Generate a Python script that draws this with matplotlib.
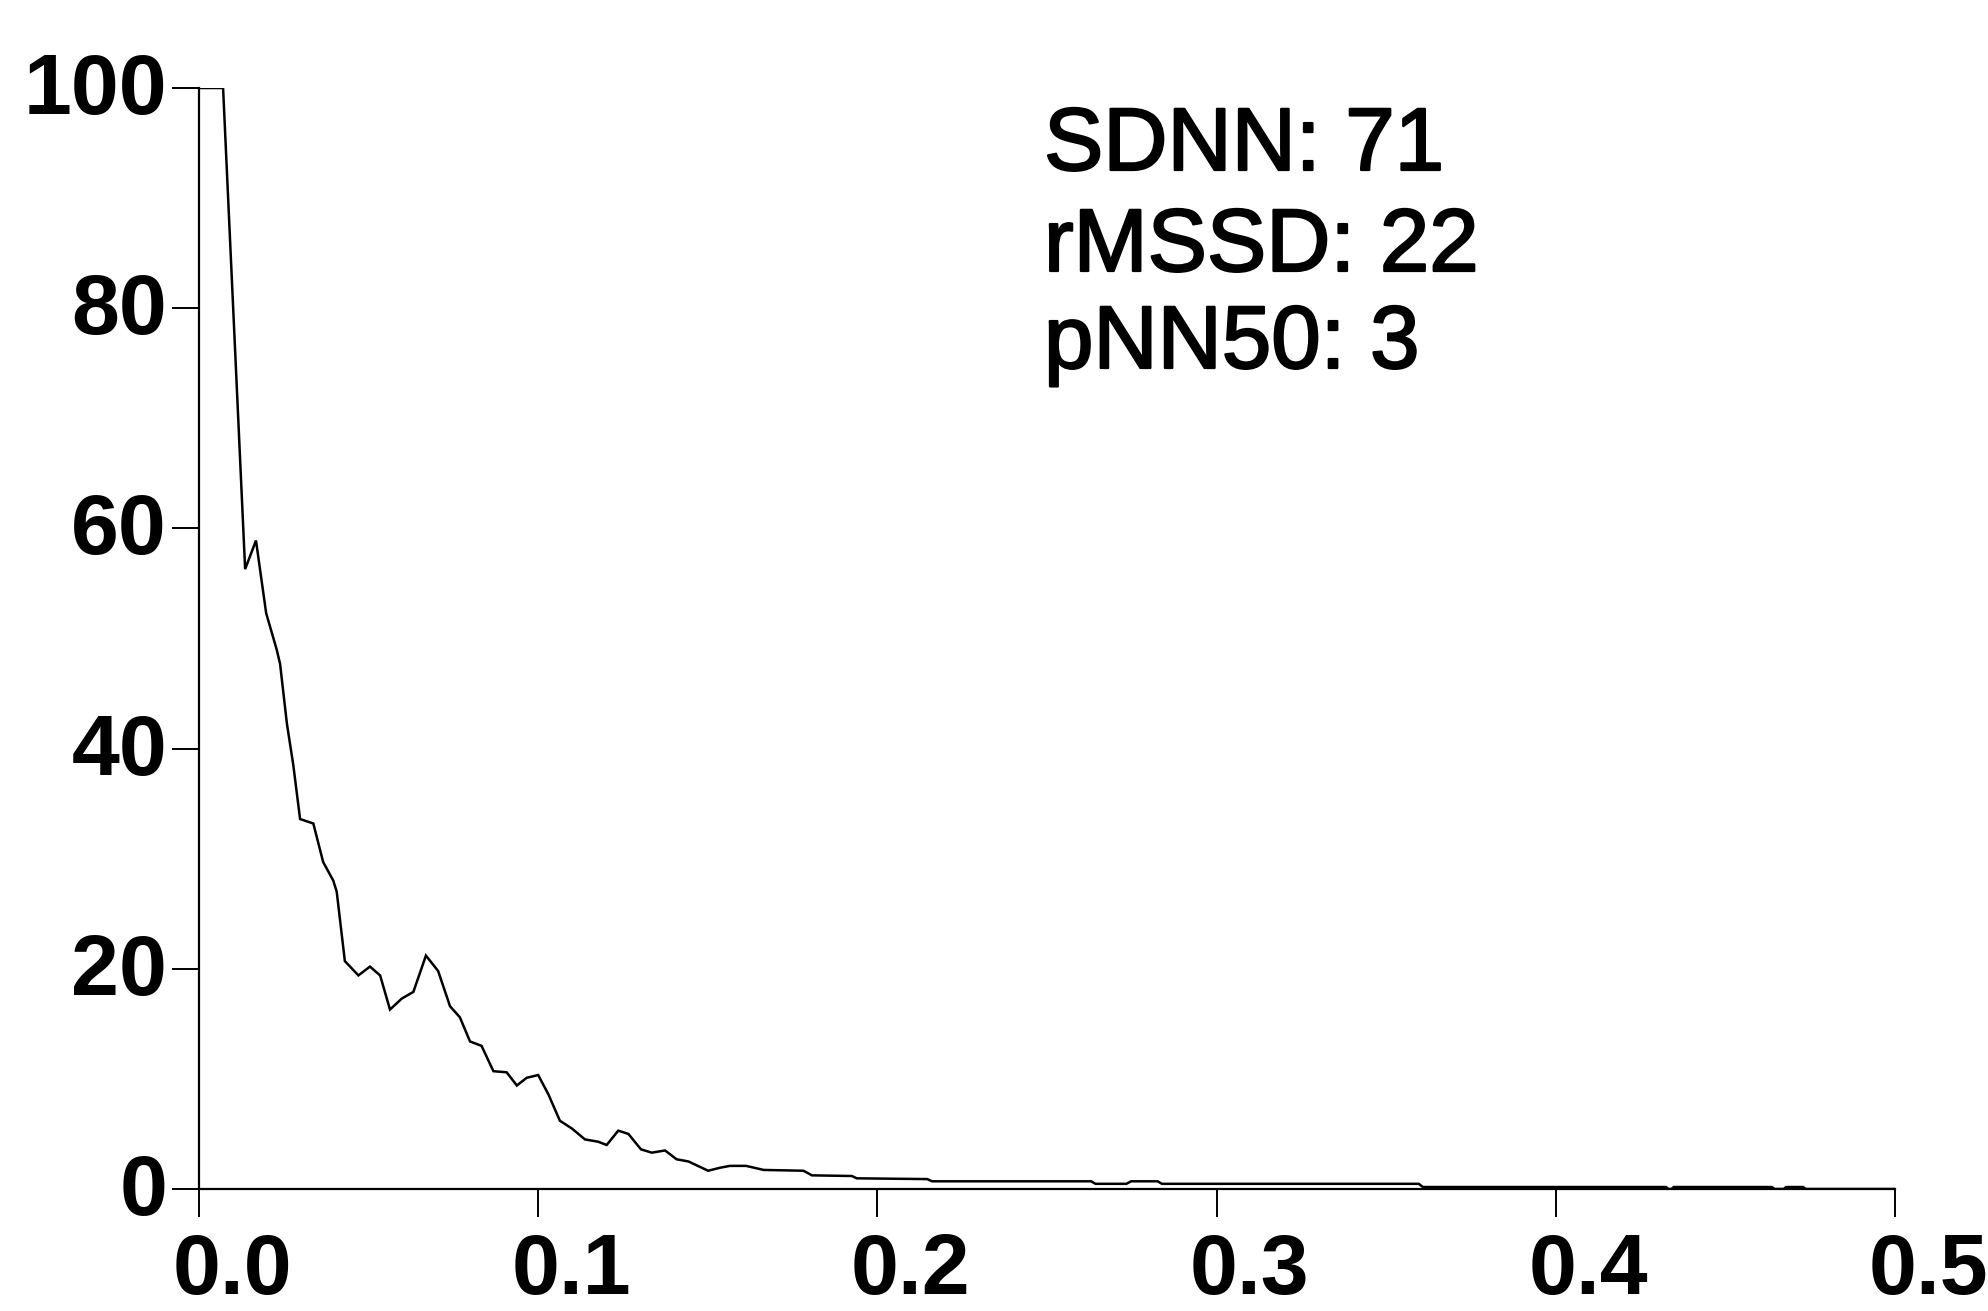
import matplotlib
matplotlib.use("Agg")
import matplotlib.pyplot as plt
import matplotlib.transforms as mtransforms
import matplotlib.patheffects as pe

# frecuencia (eje x) y valor normalizado (eje y)
frecuencia = [0.0, 0.0071, 0.0136, 0.0168, 0.0198, 0.0229, 0.0239, 0.0259, 0.0278, 0.0298,
              0.0337, 0.0366, 0.0396, 0.0406, 0.0430, 0.0470, 0.0504, 0.0534, 0.0563, 0.0598,
              0.0632, 0.0669, 0.0705, 0.0740, 0.0769, 0.0799, 0.0833, 0.0868, 0.0907, 0.0937,
              0.0966, 0.1000, 0.1030, 0.1064, 0.1099, 0.1138, 0.1176, 0.1202, 0.1236, 0.1266,
              0.1303, 0.1335, 0.1374, 0.1408, 0.1443, 0.1501, 0.1536, 0.1565, 0.1613, 0.1665,
              0.1782, 0.1807, 0.1925, 0.1939, 0.2147, 0.2161, 0.2630, 0.2643, 0.2734, 0.2748,
              0.2826, 0.2839, 0.3596, 0.3608, 0.4325, 0.4332, 0.4341, 0.4348, 0.4637, 0.4645,
              0.4672, 0.4679, 0.4729, 0.4737, 0.5]
potencia = [100, 100, 56.3, 58.9, 52.3, 49.0, 47.7, 42.3, 38.5, 33.6,
            33.2, 29.7, 28.0, 27.0, 20.7, 19.4, 20.2, 19.4, 16.3, 17.3,
            17.9, 21.2, 19.8, 16.6, 15.6, 13.4, 13.0, 10.7, 10.6, 9.4,
            10.1, 10.35, 8.6, 6.2, 5.5, 4.5, 4.3, 4.0, 5.3, 5.0,
            3.6, 3.3, 3.5, 2.7, 2.5, 1.66, 1.93, 2.1, 2.1, 1.73,
            1.66, 1.24, 1.18, 0.97, 0.9, 0.7, 0.7, 0.47, 0.47, 0.7,
            0.7, 0.47, 0.47, 0.18, 0.18, 0.0, 0.0, 0.18, 0.18, 0.0,
            0.0, 0.18, 0.18, 0.0, 0.0]

ticks_x = [0.0, 0.1, 0.2, 0.3, 0.4, 0.5]
etiquetas_x = ["0.0", "0.1", "0.2", "0.3", "0.4", "0.5"]
ticks_y = [0, 20, 40, 60, 80, 100]
etiquetas_y = ["0", "20", "40", "60", "80", "100"]

estadisticos = ["SDNN: 71", "rMSSD: 22", "pNN50: 3"]


def pinta_espectro():
    W, H = 1988, 1311
    fig = plt.figure(figsize=(W / 100, H / 100), dpi=100)
    ax = fig.add_axes([199 / W, 1 - 1189 / H, (1895 - 199) / W, (1189 - 88) / H])

    ax.plot(frecuencia, potencia, color="black", linewidth=1.8, solid_joinstyle="miter")
    ax.set_xlim(0, 0.5)
    ax.set_ylim(0, 100)

    for lado in ["top", "right"]:
        ax.spines[lado].set_visible(False)
    for lado in ["left", "bottom"]:
        ax.spines[lado].set_linewidth(1.6)

    fuente = {"family": "Liberation Sans", "weight": "bold", "size": 62}
    ax.set_xticks(ticks_x)
    ax.set_xticklabels(etiquetas_x, fontdict=fuente)
    ax.set_yticks(ticks_y)
    ax.set_yticklabels(etiquetas_y, fontdict=fuente)
    ax.tick_params(axis="x", direction="out", length=20, width=1.4, pad=11)
    ax.tick_params(axis="y", direction="out", length=19.5, width=1.4, pad=3.5)

    # las etiquetas del eje x estan desplazadas a la derecha del tick
    desplaza = mtransforms.ScaledTranslation(33 / 100, 0, fig.dpi_scale_trans)
    for etiqueta in ax.get_xticklabels():
        etiqueta.set_transform(etiqueta.get_transform() + desplaza)
    sube = mtransforms.ScaledTranslation(0, 5 / 100, fig.dpi_scale_trans)
    for etiqueta in ax.get_yticklabels():
        etiqueta.set_transform(etiqueta.get_transform() + sube)

    lineas_base = [170, 271, 368]
    for texto, base in zip(estadisticos, lineas_base):
        fig.text(1044 / W, 1 - base / H, texto, family="Liberation Sans",
                 size=64, va="baseline", ha="left",
                 path_effects=[pe.withStroke(linewidth=1.6, foreground="black")])

    fig.savefig("out.png", dpi=100)


def main():
    pinta_espectro()


if __name__ == "__main__":
    main()
